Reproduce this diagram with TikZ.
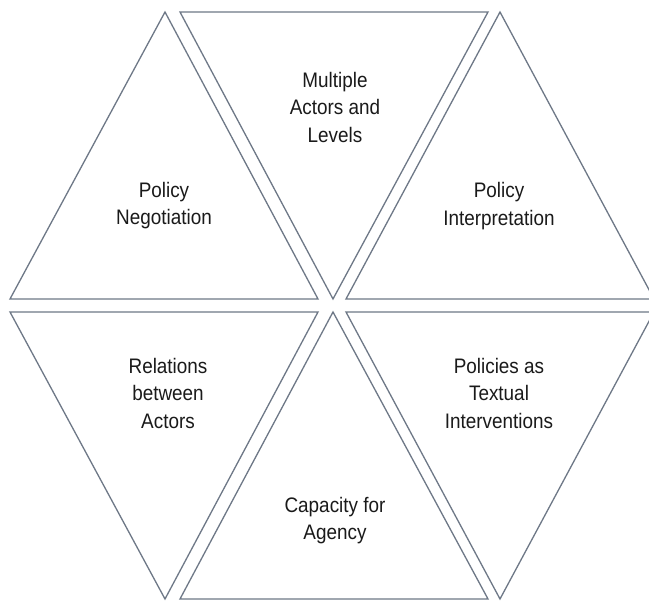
\documentclass[tikz,border=0pt]{standalone}
\usepackage{fontspec}
\newfontfamily\lbl[FakeStretch=0.9]{Liberation Sans}
\definecolor{edge}{HTML}{6E7887}
\definecolor{ink}{HTML}{1A1A1A}
\begin{document}
\begin{tikzpicture}[x=1pt,y=-1pt,
  tri/.style={draw=edge,line width=1.3pt,line join=miter},
  lab/.style={align=center,text=ink,inner sep=0pt,
    font=\lbl\fontsize{21}{27.5}\selectfont}]
\fill[white] (0,0) rectangle (649,601);
\useasboundingbox (0,0) rectangle (649,601);
\begin{scope}
\clip (0,0) rectangle (649,601);
% upper row
\draw[tri] (10,299) -- (318,299) -- (165,12) -- cycle;
\draw[tri] (180,12) -- (488,12) -- (333,299) -- cycle;
\draw[tri] (346,299) -- (654,299) -- (500,12) -- cycle;
% lower row
\draw[tri] (10,312) -- (318,312) -- (165,599) -- cycle;
\draw[tri] (180,599) -- (488,599) -- (333,312) -- cycle;
\draw[tri] (346,312) -- (654,312) -- (500,599) -- cycle;
\end{scope}
% labels
\node[lab] (levels) at (335,107) {Multiple\\Actors and\\Levels};
\node[lab] (negot) at (164,205.5) {Policy\\Negotiation};
\node[lab] (interp) at (499,206) {Policy\\Interpretation};
\node[lab] (relat) at (168,393.4) {Relations\\between\\Actors};
\node[lab] (textual) at (499,393.4) {Policies as\\Textual\\Interventions};
\node[lab] (agency) at (335,520.5) {Capacity for\\Agency};
\end{tikzpicture}
\end{document}
